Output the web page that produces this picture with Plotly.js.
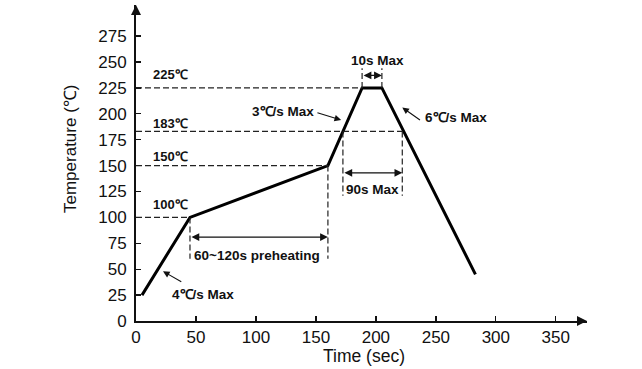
<!DOCTYPE html>
<html>
<head>
<meta charset="utf-8">
<script src="https://cdn.plot.ly/plotly-3.0.1.min.js"></script>
<style>html,body{margin:0;padding:0;background:#fff;}#chart{width:642px;height:369px;}</style>
</head>
<body>
<div id="chart"></div>
<script>
// ---- data ----
const time = [5, 45, 160, 188.5, 205, 283];
const temp = [25, 100, 150, 225, 225, 45];
const xTicks = [0, 50, 100, 150, 200, 250, 300, 350];
const yTicks = [0, 25, 50, 75, 100, 125, 150, 175, 200, 225, 250, 275];
const refTemps = [100, 150, 183, 225];
const refEnds = [45, 160, 222, 188.5];
const refLabels = ['100℃', '150℃', '183℃', '225℃'];
const dimLabels = ['60~120s preheating', '90s Max', '10s Max'];
const dimStart = [45, 172.5, 188.5];
const dimEnd = [160, 222, 205];
const rateLabels = ['4℃/s Max', '3℃/s Max', '6℃/s Max'];

// ---- styling / layout helpers ----
const FONT = 'Liberation Sans, Arial, sans-serif';
const xMax = 376, yMax = 305;
const shapes = [];
const annotations = [];
const dash = {color: '#222', width: 1.2, dash: '6px,3px'};

// horizontal reference lines + labels
const labelShift = [11, 8, 6, 12];
refTemps.forEach((t, i) => {
  shapes.push({type: 'line', xref: 'x', yref: 'y', x0: 0, x1: refEnds[i], y0: t, y1: t, line: dash});
  annotations.push({x: 12.5, y: t, xref: 'x', yref: 'y', text: refLabels[i], showarrow: false,
    xanchor: 'left', yanchor: 'bottom', yshift: labelShift[i] - 8,
    font: {family: FONT, size: 13, color: '#111', weight: 'bold'}});
});

// dimension markers
const dimY = [81, 143, 237];
const dimExt = [[100, 150, 60], [183, 183, 121], [225, 225, 244]];
dimStart.forEach((s, i) => {
  const e = dimEnd[i];
  shapes.push({type: 'line', xref: 'x', yref: 'y', x0: s, x1: s, y0: dimExt[i][0], y1: dimExt[i][2], line: dash});
  shapes.push({type: 'line', xref: 'x', yref: 'y', x0: e, x1: e, y0: dimExt[i][1], y1: dimExt[i][2], line: dash});
  annotations.push({x: e, y: dimY[i], ax: s, ay: dimY[i], xref: 'x', yref: 'y', axref: 'x', ayref: 'y',
    text: '', showarrow: true, arrowhead: 2, startarrowhead: 2, arrowside: 'end+start',
    arrowsize: 1.2, startarrowsize: 1.2, arrowwidth: 1.3, arrowcolor: '#111', standoff: 0, startstandoff: 0});
});
annotations.push({x: 47, y: 63, xref: 'x', yref: 'y', text: dimLabels[0], showarrow: false, xanchor: 'left',
  font: {family: FONT, size: 13.5, color: '#111', weight: 'bold'}});
annotations.push({x: 197, y: 127, xref: 'x', yref: 'y', text: dimLabels[1], showarrow: false,
  font: {family: FONT, size: 13.5, color: '#111', weight: 'bold'}});
annotations.push({x: 201.5, y: 251, xref: 'x', yref: 'y', text: dimLabels[2], showarrow: false,
  font: {family: FONT, size: 13.5, color: '#111', weight: 'bold'}});

// rate labels with pointer arrows
const rateText = [[28, 26, 'left'], [150, 202, 'right'], [239, 196, 'left']];
const rateArrow = [[22.5, 48, 39, 37], [171, 194, 150, 201.5], [222, 206, 238, 193]];
rateLabels.forEach((lab, i) => {
  annotations.push({x: rateText[i][0], y: rateText[i][1], xref: 'x', yref: 'y', text: lab, showarrow: false,
    xanchor: rateText[i][2], font: {family: FONT, size: 13.5, color: '#111', weight: 'bold'}});
  const a = rateArrow[i];
  annotations.push({x: a[0], y: a[1], ax: a[2], ay: a[3], xref: 'x', yref: 'y', axref: 'x', ayref: 'y',
    text: '', showarrow: true, arrowhead: 2, arrowsize: 1.2, arrowwidth: 1.1, arrowcolor: '#111', standoff: 0});
});

// axis arrowheads
annotations.push({x: xMax, y: 0, ax: xMax - 8, ay: 0, xref: 'x', yref: 'y', axref: 'x', ayref: 'y',
  text: '', showarrow: true, arrowhead: 2, arrowsize: 1, arrowwidth: 2, arrowcolor: '#111', standoff: 0});
annotations.push({x: 0, y: yMax, ax: 0, ay: yMax - 8, xref: 'x', yref: 'y', axref: 'x', ayref: 'y',
  text: '', showarrow: true, arrowhead: 2, arrowsize: 1, arrowwidth: 2, arrowcolor: '#111', standoff: 0});

// axis titles (pixel-placed, converted to paper coords below)
annotations.push({x: 70, y: 149, xref: 'paper', yref: 'paper', text: 'Temperature (℃)', showarrow: false, textangle: -90,
  xanchor: 'center', yanchor: 'middle', font: {family: FONT, size: 17, color: '#111'}});
annotations.push({x: 364, y: 356, xref: 'paper', yref: 'paper', text: 'Time (sec)', showarrow: false,
  xanchor: 'center', yanchor: 'middle', font: {family: FONT, size: 17.5, color: '#111'}});
const L = 136, R = 55, T = 5, B = 48, W = 642, H = 369;
annotations.slice(-2).forEach(a => {
  a.x = (a.x - L) / (W - L - R);
  a.y = 1 - (a.y - T) / (H - T - B);
});

const trace = {x: time, y: temp, mode: 'lines', line: {color: '#000', width: 3}, hoverinfo: 'skip', cliponaxis: false};

const axisCommon = {showgrid: false, zeroline: false, showline: true, linecolor: '#111', linewidth: 2,
  ticks: 'inside', ticklen: 5, tickwidth: 1.3, tickcolor: '#111', tickfont: {family: FONT, size: 17, color: '#111'}};

const layout = {
  width: W, height: H,
  margin: {l: L, r: R, t: T, b: B},
  paper_bgcolor: '#fff', plot_bgcolor: '#fff',
  showlegend: false,
  xaxis: Object.assign({}, axisCommon, {range: [0, xMax], tickvals: xTicks, ticktext: xTicks.map(String), ticklabelstandoff: 0}),
  yaxis: Object.assign({}, axisCommon, {range: [0, yMax], tickvals: yTicks, ticktext: yTicks.map(String), ticklabelstandoff: 4}),
  shapes: shapes,
  annotations: annotations
};

Plotly.newPlot('chart', [trace], layout, {staticPlot: true, displayModeBar: false});
</script>
</body>
</html>
